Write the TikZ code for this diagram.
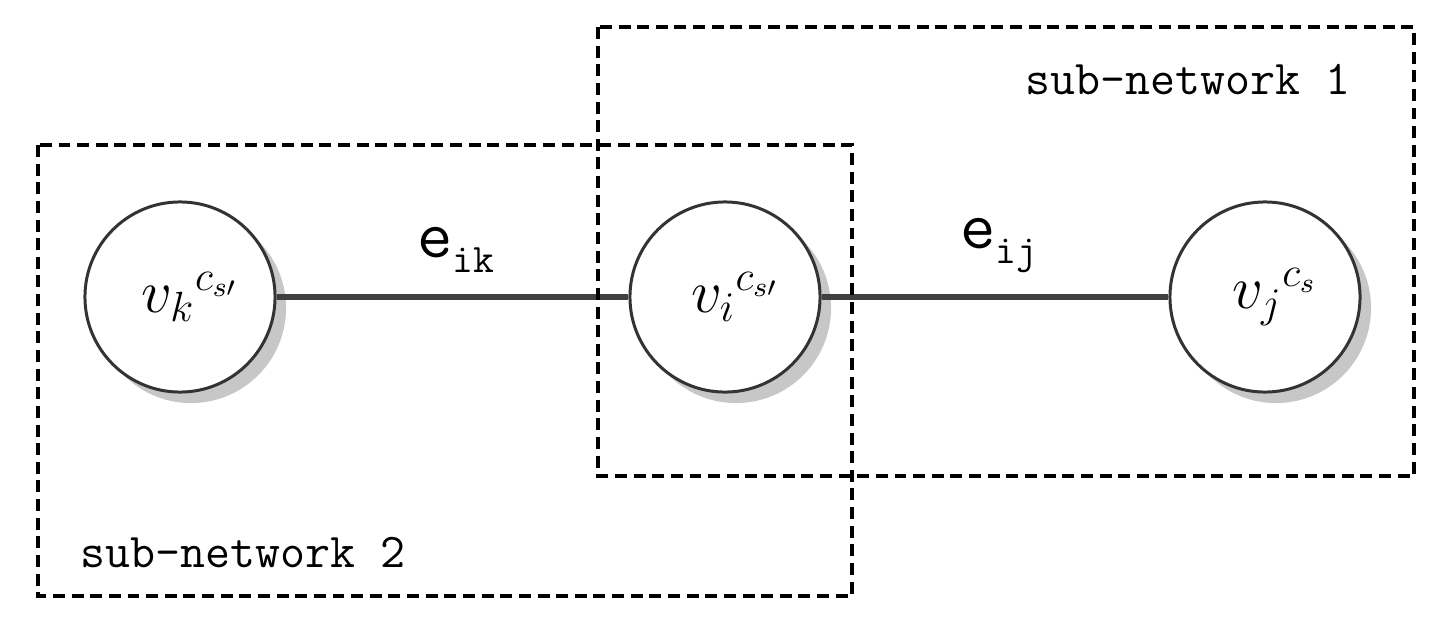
\documentclass[tikz,border=0pt]{standalone}
\usepackage{amsmath}
\begin{document}
\begin{tikzpicture}[x=0.01cm,y=-0.01cm,
  vnode/.style={circle,draw=black!80,line width=0.85pt,fill=white,minimum size=1.9cm,inner sep=0pt,font=\fontsize{16.5}{18}\selectfont},
  shadowc/.style={circle,fill=black!22,minimum size=1.9cm,inner sep=0pt},
  edge/.style={draw=black!75,line width=1.8pt},
  subnet/.style={draw=black,line width=1.05pt,dash pattern=on 3.4pt off 1.9pt},
  lbl/.style={font=\ttfamily\fontsize{13.8}{15}\selectfont,anchor=west,inner sep=0pt},
  elbl/.style={font=\ttfamily\fontsize{19.5}{22}\selectfont,inner sep=0pt}]
\useasboundingbox (0,0) rectangle (1448,621);
\fill[white] (0,0) rectangle (1448,621);
% shadows
\node[shadowc] (sk) at (191,308) {};
\node[shadowc] (si) at (736,308) {};
\node[shadowc] (sj) at (1276,308) {};
% nodes
\node[vnode] (vk) at (180,297) {\hspace*{0.2cm}${v_k}^{c_{s\prime}}$};
\node[vnode] (vi) at (725,297) {\hspace*{0.2cm}${v_i}^{c_{s\prime}}$};
\node[vnode] (vj) at (1265,297) {\hspace*{0.2cm}${v_j}^{c_{s}}$};
% edges
\draw[edge] (vk) -- node[elbl,above=6pt,xshift=1pt] {e\raisebox{-0.5ex}{\fontsize{11.5}{12}\selectfont ik}} (vi);
\draw[edge] (vi) -- node[elbl,above=6pt,xshift=1pt] {e\raisebox{-0.5ex}{\fontsize{11.5}{12}\selectfont ij}} (vj);
% sub-networks
\draw[subnet] (598,27) rectangle (1414,476);
\draw[subnet] (38,145) rectangle (852,596);
\node[lbl] (l1) at (1025,80) {sub-network 1};
\node[lbl] (l2) at (80,553) {sub-network 2};
\end{tikzpicture}
\end{document}
